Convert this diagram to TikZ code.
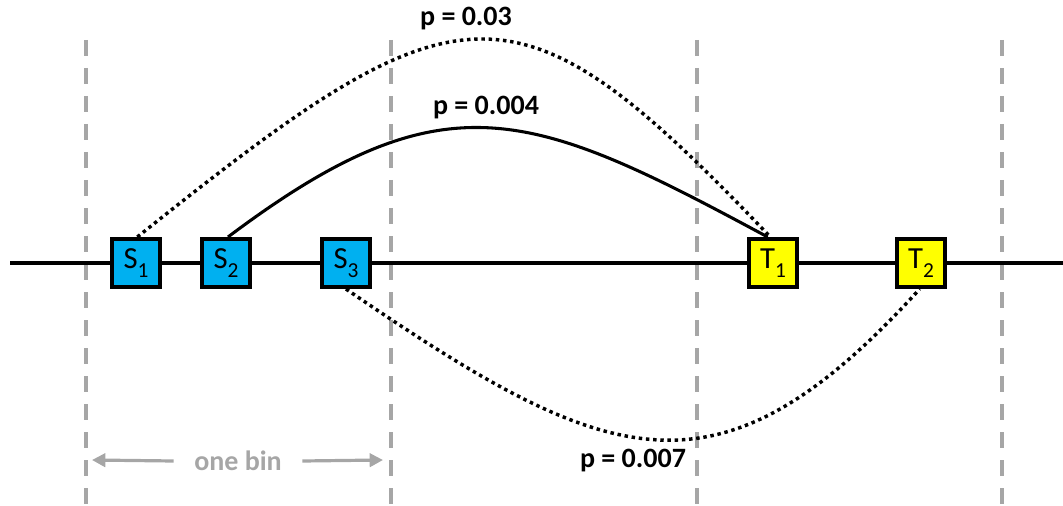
\documentclass[tikz,border=0pt]{standalone}
\usepackage{fontspec}
\setmainfont{Carlito}
\usetikzlibrary{arrows.meta}
\definecolor{sblue}{HTML}{00B0F0}
\definecolor{tyellow}{HTML}{FFFF00}
\definecolor{bingray}{HTML}{A6A6A6}
\newcommand{\bsub}[1]{\raisebox{-0.28em}{\fontsize{16}{18}\selectfont #1}}
\tikzset{
  px/.style={x=0.75pt,y=-0.75pt},
  binline/.style={bingray,line width=3pt,dash pattern=on 12pt off 9pt},
  boxnode/.style={draw=black,line width=3pt,minimum width=36pt,minimum height=36pt,inner sep=0pt,font=\fontsize{23}{26}\selectfont},
  sbox/.style={boxnode,fill=sblue},
  tbox/.style={boxnode,fill=tyellow},
  dotline/.style={line width=2.6pt,dash pattern=on 2.6pt off 2.8pt},
  solidline/.style={line width=2.3pt},
  plabel/.style={font=\fontsize{21}{25}\selectfont\bfseries},
  binarrow/.style={bingray,line width=2.4pt,-{Triangle[length=10pt,width=10pt]}}
}
\begin{document}
\begin{tikzpicture}[px]
\useasboundingbox (0,0) rectangle (1063,506);
% bin separators
\foreach \x/\n in {86/a,391/b,697/c,1002/d} {
  \coordinate (top\n) at (\x,40);
  \coordinate (bot\n) at (\x,506);
  \draw[binline] (top\n) -- (bot\n);
}
% main line
\coordinate (lineL) at (10,263);
\coordinate (lineR) at (1063,263);
\draw[line width=2.5pt] (lineL) -- (lineR);
% boxes
\node[sbox] (S1) at (136,263) {S\bsub{1}};
\node[sbox] (S2) at (226,263) {S\bsub{2}};
\node[sbox] (S3) at (346,263) {S\bsub{3}};
\node[tbox] (T1) at (773,263) {T\bsub{1}};
\node[tbox] (T2) at (921,263) {T\bsub{2}};
% curves
\draw[dotline] ([xshift=1pt]S1.north) .. controls (462,-23) and (515,-31) .. ([xshift=-2pt]T1.north);
\draw[solidline] ([xshift=1.5pt]S2.north) .. controls (445,74) and (530,109) .. ([xshift=-4pt]T1.north);
\draw[dotline] (S3.south) .. controls (608,468) and (717,512) .. ([xshift=-1pt]T2.south);
% labels
\node[plabel] (p1) at (466,19) {p = 0.03};
\node[plabel] (p2) at (486,108) {p = 0.004};
\node[plabel] (p3) at (633,461) {p = 0.007};
% one bin
\node[bingray,plabel] (bin) at (238,461) {one bin};
\coordinate (binL) at (92,460);
\coordinate (binR) at (383,460);
\draw[binarrow] ([xshift=-12pt]bin.west) -- (binL);
\draw[binarrow] ([xshift=12pt]bin.east) -- (binR);
\end{tikzpicture}
\end{document}
